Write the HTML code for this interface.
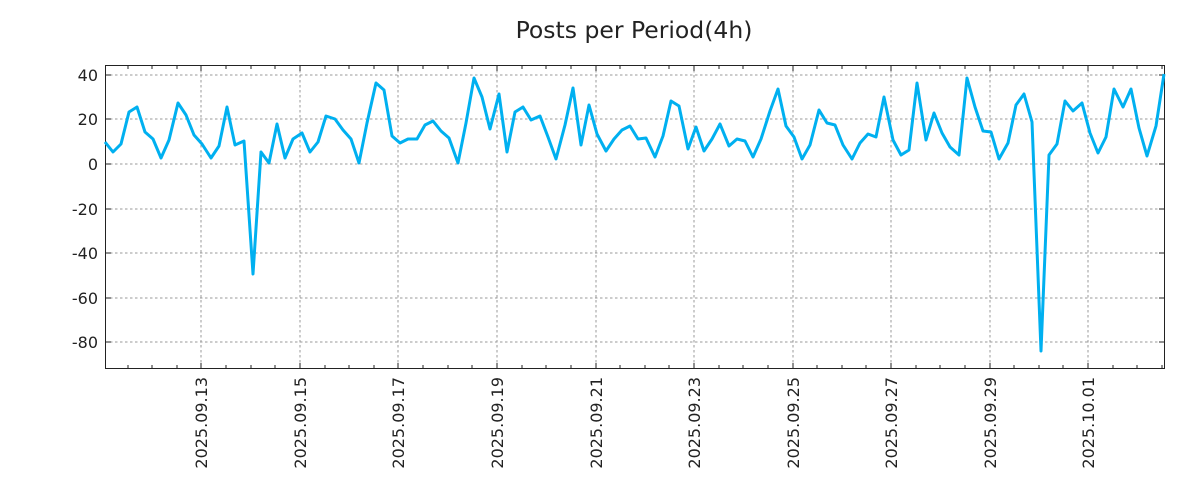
<!DOCTYPE html>
<html><head><meta charset="utf-8"><style>
html,body{margin:0;padding:0;background:#fff;}
svg{display:block;font-family:"DejaVu Sans","Liberation Sans",sans-serif;}
</style></head><body>
<svg width="1200" height="500" viewBox="0 0 1200 500" xmlns="http://www.w3.org/2000/svg">
<rect width="1200" height="500" fill="#fff"/>
<text x="634" y="38" font-size="23.5" text-anchor="middle" fill="#222">Posts per Period(4h)</text>
<g stroke="#999" stroke-width="1" stroke-dasharray="2.5,2.5">
<line x1="105" x2="1165" y1="75" y2="75"/><line x1="105" x2="1165" y1="119" y2="119"/>
<line x1="105" x2="1165" y1="164" y2="164"/><line x1="105" x2="1165" y1="209" y2="209"/>
<line x1="105" x2="1165" y1="253" y2="253"/><line x1="105" x2="1165" y1="298" y2="298"/>
<line x1="105" x2="1165" y1="342" y2="342"/>
<line y1="65" y2="369" x1="201" x2="201"/><line y1="65" y2="369" x1="300" x2="300"/>
<line y1="65" y2="369" x1="398" x2="398"/><line y1="65" y2="369" x1="497" x2="497"/>
<line y1="65" y2="369" x1="596" x2="596"/><line y1="65" y2="369" x1="694" x2="694"/>
<line y1="65" y2="369" x1="793" x2="793"/><line y1="65" y2="369" x1="891" x2="891"/>
<line y1="65" y2="369" x1="990" x2="990"/><line y1="65" y2="369" x1="1088" x2="1088"/>
</g>
<g stroke="#222" stroke-width="1">
<path d="M128,65v4M152,65v4M177,65v4M201,65v6M226,65v4M251,65v4M275,65v4M300,65v6M325,65v4M349,65v4M374,65v4M398,65v6M423,65v4M448,65v4M472,65v4M497,65v6M522,65v4M546,65v4M571,65v4M596,65v6M620,65v4M645,65v4M669,65v4M694,65v6M719,65v4M743,65v4M768,65v4M793,65v6M817,65v4M842,65v4M866,65v4M891,65v6M916,65v4M940,65v4M965,65v4M990,65v6M1014,65v4M1039,65v4M1063,65v4M1088,65v6M1113,65v4M1137,65v4M1162,65v4"/>
<path d="M128,369v-4M152,369v-4M177,369v-4M201,369v-6M226,369v-4M251,369v-4M275,369v-4M300,369v-6M325,369v-4M349,369v-4M374,369v-4M398,369v-6M423,369v-4M448,369v-4M472,369v-4M497,369v-6M522,369v-4M546,369v-4M571,369v-4M596,369v-6M620,369v-4M645,369v-4M669,369v-4M694,369v-6M719,369v-4M743,369v-4M768,369v-4M793,369v-6M817,369v-4M842,369v-4M866,369v-4M891,369v-6M916,369v-4M940,369v-4M965,369v-4M990,369v-6M1014,369v-4M1039,369v-4M1063,369v-4M1088,369v-6M1113,369v-4M1137,369v-4M1162,369v-4"/>
<path d="M105,75h6M105,119h6M105,164h6M105,209h6M105,253h6M105,298h6M105,342h6M1165,75h-6M1165,119h-6M1165,164h-6M1165,209h-6M1165,253h-6M1165,298h-6M1165,342h-6"/>
</g>
<rect x="105.5" y="65.5" width="1059" height="303" fill="none" stroke="#222" stroke-width="1"/>
<g font-size="16" fill="#222" text-anchor="end">
<text x="98" y="81">40</text><text x="98" y="125">20</text><text x="98" y="170">0</text>
<text x="98" y="215">-20</text><text x="98" y="259">-40</text><text x="98" y="304">-60</text><text x="98" y="348">-80</text>
</g>
<g font-size="16" fill="#222" text-anchor="end">
<text transform="translate(207,377) rotate(-90)">2025.09.13</text>
<text transform="translate(306,377) rotate(-90)">2025.09.15</text>
<text transform="translate(404,377) rotate(-90)">2025.09.17</text>
<text transform="translate(503,377) rotate(-90)">2025.09.19</text>
<text transform="translate(602,377) rotate(-90)">2025.09.21</text>
<text transform="translate(700,377) rotate(-90)">2025.09.23</text>
<text transform="translate(799,377) rotate(-90)">2025.09.25</text>
<text transform="translate(897,377) rotate(-90)">2025.09.27</text>
<text transform="translate(996,377) rotate(-90)">2025.09.29</text>
<text transform="translate(1094,377) rotate(-90)">2025.10.01</text>
</g>
<polyline fill="none" stroke="#00b0f0" stroke-width="3" stroke-linejoin="round" points="105,142 113,152 121,144 129,112 137,107 145,132 153,139 161,158 169,140 178,103 186,115 194,135 202,144 211,158 219,146 227,107 235,145 244,141 253,274 261,152 269,163 277,124 285,158 293,139 302,133 310,152 318,142 326,116 335,119 343,130 351,139 359,163 367,123 376,83 384,90 392,136 400,143 408,139 417,139 425,125 433,121 441,131 449,138 458,163 466,123 474,78 482,97 490,129 499,94 507,152 515,112 523,107 531,120 540,116 548,137 556,159 565,125 573,88 581,145 589,105 597,134 606,151 614,139 622,130 630,126 638,139 646,138 655,157 663,136 671,101 679,106 688,149 696,127 704,151 712,139 720,124 729,146 737,139 745,141 753,157 761,139 770,111 778,89 786,126 794,137 802,159 810,145 819,110 827,123 835,125 843,145 852,159 860,143 868,134 876,137 884,97 893,140 901,155 909,150 917,83 926,140 934,113 942,133 950,147 959,155 967,78 975,107 983,131 991,132 999,159 1008,143 1016,105 1024,94 1032,122 1041,351 1049,155 1057,144 1065,101 1073,111 1082,103 1090,133 1098,153 1106,137 1114,89 1123,107 1131,89 1139,128 1147,156 1156,126 1164,74"/>
</svg>
</body></html>
